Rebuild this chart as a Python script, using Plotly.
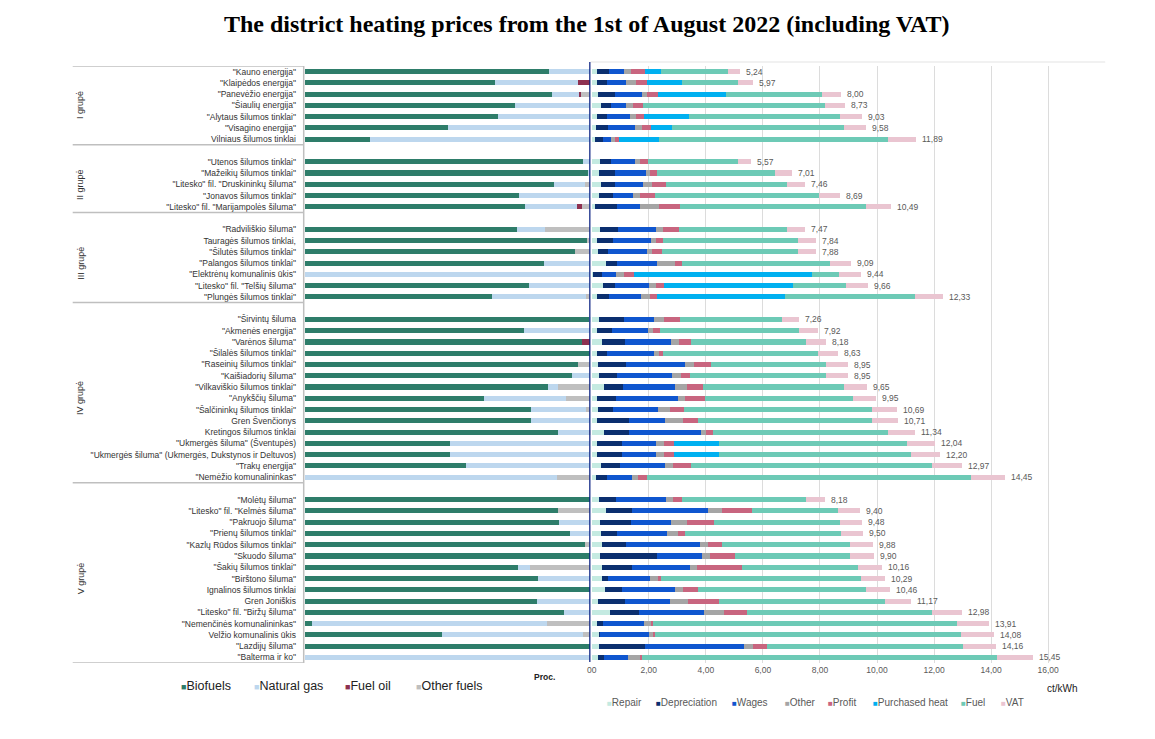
import plotly.graph_objects as go

W, H = 1155, 739

# ---------------- data ----------------
groups = ["I grupė", "II grupė", "III grupė", "IV grupė", "V grupė"]
group_sizes = [7, 5, 7, 15, 15]

companies = [
    '"Kauno energija"', '"Klaipėdos energija"', '"Panevėžio energija"', '"Šiaulių energija"',
    '"Alytaus šilumos tinklai"', '"Visagino energija"', 'Vilniaus šilumos tinklai',
    '"Utenos šilumos tinklai"', '"Mažeikių šilumos tinklai"', '"Litesko" fil. "Druskininkų šiluma"',
    '"Jonavos šilumos tinklai"', '"Litesko" fil. "Marijampolės šiluma"',
    '"Radviliškio šiluma"', 'Tauragės šilumos tinklai,', '"Šilutės šilumos tinklai"',
    '"Palangos šilumos tinklai"', '"Elektrėnų komunalinis ūkis"', '"Litesko" fil. "Telšių šiluma"',
    '"Plungės šilumos tinklai"',
    '"Širvintų šiluma', '"Akmenės energija"', '"Varėnos šiluma"', '"Šilalės šilumos tinklai"',
    '"Raseinių šilumos tinklai"', '"Kaišiadorių šiluma"', '"Vilkaviškio šilumos tinklai"',
    '"Anykščių šiluma"', '"Šalčininkų šilumos tinklai"', 'Gren Švenčionys', 'Kretingos šilumos tinklai',
    '"Ukmergės šiluma" (Šventupės)', '"Ukmergės šiluma" (Ukmergės, Dukstynos ir Deltuvos)',
    '"Trakų energija"', '"Nemėžio komunalininkas"',
    '"Molėtų šiluma"', '"Litesko" fil. "Kelmės šiluma"', '"Pakruojo šiluma"', '"Prienų šilumos tinklai"',
    '"Kazlų Rūdos šilumos tinklai"', '"Skuodo šiluma"', '"Šakių šilumos tinklai"', '"Birštono šiluma"',
    'Ignalinos šilumos tinklai', 'Gren Joniškis', '"Litesko" fil. "Biržų šiluma"',
    '"Nemenčinės komunalininkas"', 'Velžio komunalinis ūkis', '"Lazdijų šiluma"', '"Balterma ir ko"',
]

# fuel structure, %
biofuels = [85.5, 66.7, 86.6, 73.5, 67.7, 50.3, 22.7,
            97.3, 99.0, 87.3, 74.9, 77.0,
            74.4, 98.9, 94.7, 83.7, 0, 78.6, 65.5,
            99.5, 76.9, 97.1, 100, 95.8, 93.4, 85.2, 62.8, 79.3, 79.1, 88.8, 50.9, 50.9, 56.3, 0,
            100, 88.8, 89.1, 92.9, 98.1, 100, 74.8, 81.7, 100, 81.3, 90.6, 2.6, 48.0, 100, 0]
natural_gas = [14.5, 29.1, 9.3, 26.5, 32.3, 49.7, 77.3,
               2.7, 1.0, 10.8, 25.1, 18.2,
               9.8, 0, 0, 16.3, 100, 21.4, 33.0,
               0.5, 23.1, 0, 0, 0, 6.6, 3.6, 28.6, 19.0, 20.9, 10.8, 49.1, 49.1, 43.7, 88.3,
               0, 0, 10.9, 7.1, 0, 0, 4.1, 18.3, 0, 18.7, 9.4, 82.2, 49.3, 0, 100]
fuel_oil = [0, 4.2, 0.9, 0, 0, 0, 0,
            0, 0, 0, 0, 1.9,
            0, 0, 0, 0, 0, 0, 0,
            0, 0, 2.9, 0, 0, 0, 0, 0, 0, 0, 0, 0, 0, 0, 0,
            0, 0, 0, 0, 0, 0, 0, 0, 0, 0, 0, 0, 0, 0, 0]
other_fuels = [0, 0, 3.2, 0, 0, 0, 0,
               0, 0, 1.9, 0, 2.9,
               15.8, 1.1, 5.3, 0, 0, 0, 1.5,
               0, 0, 0, 0, 4.2, 0, 11.2, 8.6, 1.7, 0, 0.4, 0, 0, 0, 11.7,
               0, 11.2, 0, 0, 1.9, 0, 21.1, 0, 0, 0, 0, 15.2, 2.7, 0, 0]

# price components, ct/kWh
repair = [0.17, 0.17, 0.23, 0.33, 0.17, 0.14, 0.12,
          0.28, 0.26, 0.33, 0.26, 0.12,
          0.28, 0.19, 0.21, 0.51, 0.05, 0.40, 0.17,
          0.26, 0.20, 0.35, 0.20, 0.23, 0.26, 0.44, 0.17, 0.23, 0.17, 0.42, 0.20, 0.20, 0.33, 0.14,
          0.26, 0.51, 0.28, 0.33, 0.35, 0.28, 0.35, 0.35, 0.47, 0.23, 0.63, 0.19, 0.26, 0.26, 0.23]
depreciation = [0.43, 0.37, 0.60, 0.34, 0.37, 0.44, 0.26,
                0.41, 0.54, 0.50, 0.50, 0.77,
                0.65, 0.54, 0.37, 0.38, 0.31, 0.40, 0.44,
                0.87, 0.52, 0.81, 0.35, 0.98, 0.63, 0.67, 0.69, 0.52, 1.12, 0.88, 0.87, 0.87, 0.67, 0.41,
                0.58, 0.91, 1.08, 0.56, 0.86, 2.01, 1.07, 0.21, 0.60, 0.93, 1.04, 0.19, 0.02, 1.59, 0.21]
wages = [0.52, 0.67, 0.93, 0.52, 0.79, 0.95, 0.29,
         0.84, 1.09, 0.97, 0.70, 0.79,
         1.31, 1.35, 1.37, 1.41, 0.50, 1.19, 1.12,
         1.04, 1.26, 1.61, 1.62, 2.07, 1.93, 1.82, 2.15, 1.57, 1.27, 2.52, 1.20, 1.20, 1.57, 0.87,
         1.78, 2.66, 1.42, 1.76, 2.57, 1.56, 2.01, 1.47, 1.84, 1.57, 2.26, 1.45, 1.72, 3.50, 0.84]
other = [0.27, 0.34, 0.19, 0.26, 0.22, 0.23, 0.14,
         0.17, 0.16, 0.31, 0.24, 0.69,
         0.27, 0.19, 0.15, 0.61, 0.26, 0.27, 0.30,
         0.36, 0.15, 0.28, 0.20, 0.29, 0.31, 0.41, 0.27, 0.42, 0.64, 0.17, 0.26, 0.26, 0.29, 0.21,
         0.23, 0.47, 0.57, 0.36, 0.29, 0.28, 0.26, 0.30, 0.29, 0.65, 0.71, 0.23, 0.15, 0.29, 0.41]
profit = [0.49, 0.40, 0.36, 0.33, 0.28, 0.33, 0.13,
          0.28, 0.24, 0.48, 0.50, 0.73,
          0.55, 0.22, 0.37, 0.26, 0.35, 0.27, 0.27,
          0.57, 0.28, 0.44, 0.14, 0.62, 0.31, 0.56, 0.70, 0.49, 0.51, 0.26, 0.36, 0.36, 0.62, 0.30,
          0.31, 1.08, 0.95, 0.26, 0.48, 0.88, 1.57, 0.10, 0.52, 1.07, 0.81, 0.08, 0.06, 0.52, 0.07]
purchased_heat = [0.55, 1.21, 2.40, 0, 1.58, 0.71, 1.43,
                  0, 0, 0, 0, 0,
                  0, 0, 0, 0, 6.24, 4.54, 4.48,
                  0, 0, 0, 0, 0, 0, 0, 0, 0, 0, 0, 1.57, 1.57, 0, 0,
                  0, 0, 0, 0, 0, 0, 0, 0, 0, 0, 0, 0, 0, 0, 0]
fuel = [2.33, 1.98, 3.37, 6.40, 5.29, 6.03, 8.02,
        3.13, 4.14, 4.26, 5.78, 6.53,
        3.80, 4.74, 4.76, 5.19, 0.97, 1.83, 4.54,
        3.56, 4.86, 4.01, 5.43, 4.03, 4.77, 4.96, 5.18, 6.59, 6.12, 6.13, 6.60, 6.74, 8.45, 11.36,
        4.34, 2.99, 4.41, 5.48, 4.50, 4.06, 4.08, 7.00, 5.88, 5.82, 6.48, 10.65, 10.73, 6.84, 12.44]
vat = [0.42, 0.50, 0.66, 0.70, 0.76, 0.77, 0.98,
       0.48, 0.59, 0.62, 0.71, 0.87,
       0.60, 0.63, 0.64, 0.73, 0.77, 0.79, 1.01,
       0.62, 0.66, 0.70, 0.71, 0.76, 0.76, 0.80, 0.81, 0.88, 0.90, 0.94, 0.99, 1.01, 1.05, 1.18,
       0.67, 0.77, 0.77, 0.77, 0.81, 0.81, 0.83, 0.85, 0.87, 0.91, 1.05, 1.13, 1.16, 1.16, 1.27]

price_labels = ["5,24", "5,97", "8,00", "8,73", "9,03", "9,58", "11,89",
                "5,57", "7,01", "7,46", "8,69", "10,49",
                "7,47", "7,84", "7,88", "9,09", "9,44", "9,66", "12,33",
                "7,26", "7,92", "8,18", "8,63", "8,95", "8,95", "9,65", "9,95", "10,69", "10,71",
                "11,34", "12,04", "12,20", "12,97", "14,45",
                "8,18", "9,40", "9,48", "9,50", "9,88", "9,90", "10,16", "10,29", "10,46", "11,17",
                "12,98", "13,91", "14,08", "14,16", "15,45"]

x_ticks = [0, 2, 4, 6, 8, 10, 12, 14, 16]
x_tick_labels = ["00", "2,00", "4,00", "6,00", "8,00", "10,00", "12,00", "14,00", "16,00"]

fuel_names = ["Biofuels", "Natural gas", "Fuel oil", "Other fuels"]
fuel_colors = ["#2E7D6A", "#BDD7EE", "#8E3150", "#BFBFBF"]
comp_names = ["Repair", "Depreciation", "Wages", "Other", "Profit", "Purchased heat", "Fuel", "VAT"]
comp_colors = ["#C4EAE1", "#0B2F6F", "#0F56CF", "#A5A5A5", "#C8657F", "#00B0F0", "#6DCAB6", "#EAC5D1"]

# ---------------- rows (with blank spacer rows between groups) ----------------
y_cats = []
group_ranges = []
start = 0
for gi, size in enumerate(group_sizes):
    if gi > 0:
        y_cats.append(" " * gi)
    first = len(y_cats)
    y_cats.extend(companies[start:start + size])
    group_ranges.append((first, len(y_cats) - 1))
    start += size


def expand(vals):
    d = dict(zip(companies, vals))
    return [d.get(c) for c in y_cats]


fig = go.Figure()
BAR_W = 0.45

for name, vals, col in zip(fuel_names, [biofuels, natural_gas, fuel_oil, other_fuels], fuel_colors):
    fig.add_trace(go.Bar(y=y_cats, x=expand(vals), orientation="h", name=name,
                         marker=dict(color=col, line=dict(width=0)), width=BAR_W,
                         xaxis="x", yaxis="y", showlegend=False))

comps = [repair, depreciation, wages, other, profit, purchased_heat, fuel, vat]
for name, vals, col in zip(comp_names, comps, comp_colors):
    fig.add_trace(go.Bar(y=y_cats, x=expand(vals), orientation="h", name=name,
                         marker=dict(color=col, line=dict(width=0)), width=BAR_W,
                         xaxis="x2", yaxis="y", showlegend=False))

totals = [sum(v) for v in zip(*comps)]

FONT = "Liberation Sans, Arial, sans-serif"
ann = []
# title
ann.append(dict(x=585 / W, y=1 - 24 / H, xref="paper", yref="paper", showarrow=False,
                xanchor="center", yanchor="middle",
                text="<b>The district heating prices from the 1st of August 2022 (including VAT)</b>",
                font=dict(family="Liberation Serif, Times New Roman, serif", size=24, color="#000")))
# value labels
for c, t, lab in zip(companies, totals, price_labels):
    ann.append(dict(x=t, y=c, xref="x2", yref="y", showarrow=False, xanchor="left", yanchor="middle",
                    xshift=4, text=lab, font=dict(family=FONT, size=8.5, color="#595959")))
# group labels
for g, (a, b) in zip(groups, group_ranges):
    ann.append(dict(x=76 / W, y=(a + b) / 2, xref="paper", yref="y", showarrow=False,
                    xanchor="center", yanchor="middle",
                    textangle=-90, text=g, font=dict(family=FONT, size=9, color="#333")))
# left legend
for name, col, px in zip(fuel_names, fuel_colors, [175, 248, 339, 411]):
    ann.append(dict(x=px / W, y=1 - 686 / H, xref="paper", yref="paper", showarrow=False,
                    xanchor="left", yanchor="middle",
                    text=f'<span style="color:{col};font-size:9px">■</span>{name}',
                    font=dict(family=FONT, size=12.5, color="#222")))
# right legend
for name, col, px in zip(comp_names, comp_colors, [603, 652, 728, 781, 825, 870, 958, 998]):
    ann.append(dict(x=px / W, y=1 - 702 / H, xref="paper", yref="paper", showarrow=False,
                    xanchor="left", yanchor="middle",
                    text=f'<span style="color:{col};font-size:8px">■</span>{name}',
                    font=dict(family=FONT, size=10, color="#595959")))
ann.append(dict(x=542 / W, y=1 - 677 / H, xref="paper", yref="paper", showarrow=False,
                xanchor="center", yanchor="middle",
                text="<b>Proc.</b>", font=dict(family=FONT, size=8.5, color="#222")))
ann.append(dict(x=1062 / W, y=1 - 688 / H, xref="paper", yref="paper", showarrow=False,
                xanchor="center", yanchor="middle",
                text="ct/kWh", font=dict(family=FONT, size=10, color="#222")))

shapes = []
FRAME = "#BFBFBF"
bounds = [group_ranges[0][0] - 0.5] + [b + 0.5 for (_, b) in group_ranges]
for yb in bounds:
    shapes.append(dict(type="line", xref="paper", yref="y", x0=68 / W, x1=300 / W, y0=yb, y1=yb,
                       line=dict(color=FRAME, width=1.5)))
shapes.append(dict(type="line", xref="paper", yref="paper", x0=300 / W, x1=300 / W,
                   y0=1 - 663 / H, y1=1 - 66 / H, line=dict(color=FRAME, width=1.5)))
shapes.append(dict(type="line", xref="paper", yref="paper", x0=588 / W, x1=1105 / W,
                   y0=1 - 62 / H, y1=1 - 62 / H, line=dict(color="#E3E3E3", width=1)))
shapes.append(dict(type="line", xref="x", yref="paper", x0=100, x1=100,
                   y0=1 - 662 / H, y1=1 - 62 / H, line=dict(color="#0B2383", width=2.5)))

fig.update_layout(
    width=W, height=H, margin=dict(l=0, r=0, t=0, b=0),
    paper_bgcolor="white", plot_bgcolor="white",
    barmode="stack", showlegend=False,
    font=dict(family=FONT),
    xaxis=dict(domain=[301 / W, 588 / W], range=[0, 100], anchor="y",
               showgrid=False, zeroline=False, showticklabels=False, showline=False, fixedrange=True),
    xaxis2=dict(domain=[589.3 / W, 1105 / W], range=[0, 18], anchor="y",
                showgrid=True, gridcolor="#DCDCDC", gridwidth=1, zeroline=False, showline=False,
                tickvals=x_ticks, ticktext=x_tick_labels, ticks="",
                tickfont=dict(family=FONT, size=8.5, color="#595959")),
    yaxis=dict(domain=[1 - 663 / H, 1 - 66 / H], anchor="x",
               categoryorder="array", categoryarray=y_cats, type="category",
               range=[len(y_cats) - 0.5, -0.5],
               showgrid=False, zeroline=False, showline=False,
               ticks="outside", ticklen=6, tickcolor="rgba(0,0,0,0)",
               tickfont=dict(family=FONT, size=8.5, color="#333")),
    annotations=ann, shapes=shapes,
)

fig.write_html("out.html")
